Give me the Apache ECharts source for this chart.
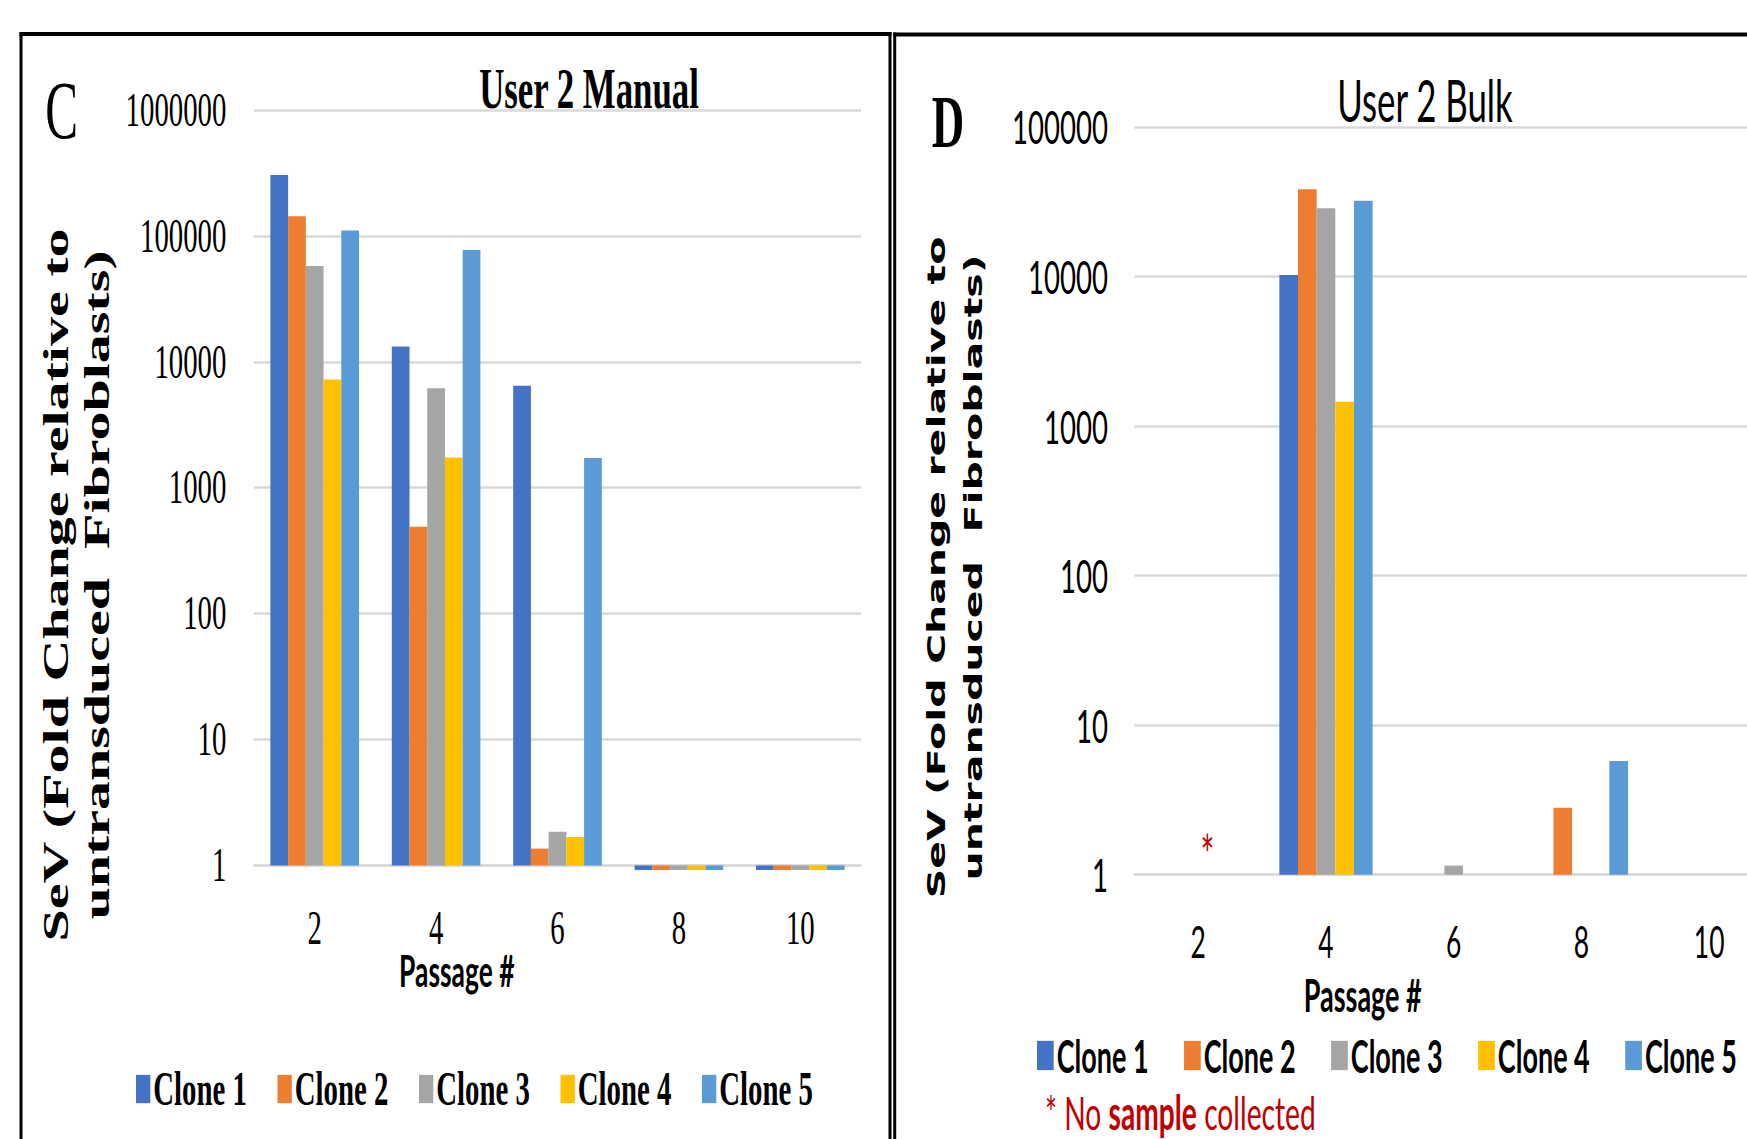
<!DOCTYPE html>
<html>
<head>
<meta charset="utf-8">
<script src="https://cdn.jsdelivr.net/npm/echarts@6/dist/echarts.min.js"></script>
<style>
  html, body { margin: 0; padding: 0; background: #fff; overflow: hidden; width: 1747px; height: 1139px; }
  /* the figure is laid out wide and then compressed horizontally */
  #chart { position: absolute; left: 0; top: 0; width: 3000px; height: 1139px; transform: scaleX(0.6); transform-origin: 0 0; }
</style>
</head>
<body>
<div id="chart"></div>
<script>
// ---- data ----
const passages = ['2', '4', '6', '8', '10'];
const cloneNames = ['Clone 1', 'Clone 2', 'Clone 3', 'Clone 4', 'Clone 5'];
const cloneColors = ['#4472c4', '#ed7d31', '#a5a5a5', '#ffc000', '#5b9bd5'];

// User 2 Manual: SeV fold change per passage
const manualClone1 = [305000, 13250, 6460, 0.92, 0.92];
const manualClone2 = [143000, 489, 1.36, 0.92, 0.92];
const manualClone3 = [57700, 6170, 1.85, 0.92, 0.92];
const manualClone4 = [7220, 1738, 1.68, 0.92, 0.92];
const manualClone5 = [110600, 77300, 1725, 0.92, 0.92];

// User 2 Bulk: SeV fold change per passage (passage 2 not collected)
const bulkClone1 = [null, 10200, null, null, null];
const bulkClone2 = [null, 38200, null, 2.8, null];
const bulkClone3 = [null, 28500, 1.15, null, null];
const bulkClone4 = [null, 1449, null, null, null];
const bulkClone5 = [null, 32000, null, 5.76, null];

const manualMax = 1000000;
const bulkMax = 100000;
const noSampleMark = { passage: '2', level: 1.64 };

// ---- layout helpers ----
const K = 0.6;              // horizontal compression applied by CSS
const X = v => v / K;       // screen x -> layout x

const serif = 'Liberation Serif';
const sans = 'Lato';

const manualSeries = [manualClone1, manualClone2, manualClone3, manualClone4, manualClone5];
const bulkSeries = [bulkClone1, bulkClone2, bulkClone3, bulkClone4, bulkClone5];

function barSeries(data, i, axisIdx) {
  return {
    type: 'bar',
    name: cloneNames[i],
    xAxisIndex: axisIdx,
    yAxisIndex: axisIdx,
    data: data,
    barGap: '0%',
    barCategoryGap: '27%',
    clip: false,
    itemStyle: { color: cloneColors[i] }
  };
}

const series = [
  ...manualSeries.map((d, i) => barSeries(d, i, 0)),
  ...bulkSeries.map((d, i) => barSeries(d, i, 1))
];
// red asterisk for the passage without a sample (middle bar slot of the group)
series[7].markPoint = {
  symbol: 'circle',
  symbolSize: 0,
  data: [{ coord: [noSampleMark.passage, noSampleMark.level] }],
  label: {
    show: true, position: 'inside', formatter: '*',
    color: '#c00000', fontFamily: sans, fontSize: 54, offset: [X(9), 10]
  }
};

const gridLine = { lineStyle: { color: '#d9d9d9', width: 2.5 } };
const logLabel = v => String(Math.round(v));

const chart = echarts.init(document.getElementById('chart'), null, { renderer: 'svg' });
chart.setOption({
  animation: false,
  backgroundColor: '#fff',
  grid: [
    { left: X(254), width: X(607), top: 110, height: 755.4 },
    { left: X(1134.4), width: X(638.6), top: 126.8, height: 747.9 }
  ],
  xAxis: [
    {
      gridIndex: 0, type: 'category', data: passages,
      axisLine: { lineStyle: { color: '#d9d9d9', width: 2.5 } },
      axisTick: { show: false },
      axisLabel: { margin: 39, fontFamily: serif, fontSize: 48, color: '#000' }
    },
    {
      gridIndex: 1, type: 'category', data: passages,
      axisLine: { lineStyle: { color: '#d9d9d9', width: 2.5 } },
      axisTick: { show: false },
      axisLabel: { margin: 44, fontFamily: sans, fontSize: 44, color: '#000' }
    }
  ],
  yAxis: [
    {
      gridIndex: 0, type: 'log', logBase: 10, min: 1, max: manualMax, splitNumber: 6,
      axisLine: { show: false }, axisTick: { show: false }, splitLine: gridLine,
      axisLabel: { margin: 46, fontFamily: serif, fontSize: 48, color: '#000', formatter: logLabel }
    },
    {
      gridIndex: 1, type: 'log', logBase: 10, min: 1, max: bulkMax, splitNumber: 5,
      axisLine: { show: false }, axisTick: { show: false }, splitLine: gridLine,
      axisLabel: { margin: 44, fontFamily: sans, fontSize: 46, color: '#000', formatter: logLabel }
    }
  ],
  legend: [
    {
      data: cloneNames, left: X(133), top: 1060, orient: 'horizontal',
      icon: 'rect', itemWidth: X(14.3), itemHeight: 28.3, itemGap: 51,
      textStyle: { fontFamily: serif, fontWeight: 'bold', fontSize: 48, color: '#000' }
    },
    {
      data: cloneNames, left: X(1034), top: 1028, orient: 'horizontal',
      icon: 'rect', itemWidth: X(16.7), itemHeight: 29.3, itemGap: 59,
      textStyle: { fontFamily: sans, fontWeight: 'bold', fontSize: 45, color: '#000' }
    }
  ],
  graphic: [
    // panel frames
    { type: 'line', shape: { x1: X(19.5), y1: 34, x2: X(891.5), y2: 34 }, style: { stroke: '#000', lineWidth: 4 } },
    { type: 'line', shape: { x1: X(21), y1: 32, x2: X(21), y2: 1200 }, style: { stroke: '#000', lineWidth: X(3) } },
    { type: 'line', shape: { x1: X(890), y1: 32, x2: X(890), y2: 1200 }, style: { stroke: '#000', lineWidth: X(3) } },
    { type: 'line', shape: { x1: X(893.2), y1: 34.5, x2: 3000, y2: 34.5 }, style: { stroke: '#000', lineWidth: 4 } },
    { type: 'line', shape: { x1: X(894.7), y1: 32.5, x2: X(894.7), y2: 1200 }, style: { stroke: '#000', lineWidth: X(3) } },
    // panel letters
    { type: 'text', x: X(61.6), y: 111, style: { text: 'C', fontFamily: serif, fontSize: 82, fill: '#000', align: 'center', verticalAlign: 'middle' } },
    { type: 'text', x: X(948), y: 121.5, style: { text: 'D', fontFamily: serif, fontWeight: 'bold', fontSize: 75, fill: '#000', align: 'center', verticalAlign: 'middle' } },
    // chart titles
    { type: 'text', x: X(589), y: 87.5, style: { text: 'User 2 Manual', fontFamily: serif, fontWeight: 'bold', fontSize: 58, fill: '#000', align: 'center', verticalAlign: 'middle' } },
    { type: 'text', x: X(1425), y: 100, style: { text: 'User 2 Bulk', fontFamily: sans, fontSize: 58, fill: '#000', align: 'center', verticalAlign: 'middle' } },
    // category axis titles
    { type: 'text', x: X(456.8), y: 970, style: { text: 'Passage #', fontFamily: sans, fontWeight: 'bold', fontSize: 44, lineHeight: 34, fill: '#000', align: 'center', verticalAlign: 'middle' } },
    { type: 'text', x: X(1362.7), y: 994, style: { text: 'Passage #', fontFamily: sans, fontWeight: 'bold', fontSize: 45, lineHeight: 36, fill: '#000', align: 'center', verticalAlign: 'middle' } },
    // value axis titles
    { type: 'text', x: X(76), y: 585, rotation: Math.PI / 2,
      style: { text: 'SeV (Fold Change relative to\nuntransduced  Fibroblasts)', fontFamily: serif, fontWeight: 'bold', fontSize: 58, lineHeight: X(41), fill: '#000', align: 'center', verticalAlign: 'middle' } },
    { type: 'text', x: X(955), y: 567.5, rotation: Math.PI / 2,
      style: { text: 'SeV (Fold Change relative to\nuntransduced  Fibroblasts)', fontFamily: 'DejaVu Sans', fontWeight: 'bold', fontSize: 41, lineHeight: X(37.7), fill: '#000', align: 'center', verticalAlign: 'middle' } },
    // footnote
    { type: 'text', x: X(1045), y: 1112,
      style: {
        text: '{a|* No }{b|sample}{a| collected}',
        align: 'left', verticalAlign: 'middle',
        rich: {
          a: { fontFamily: sans, fontSize: 47, fill: '#c00000', color: '#c00000' },
          b: { fontFamily: sans, fontWeight: 'bold', fontSize: 47, fill: '#c00000', color: '#c00000' }
        }
      } }
  ],
  series: series
});
</script>
</body>
</html>
